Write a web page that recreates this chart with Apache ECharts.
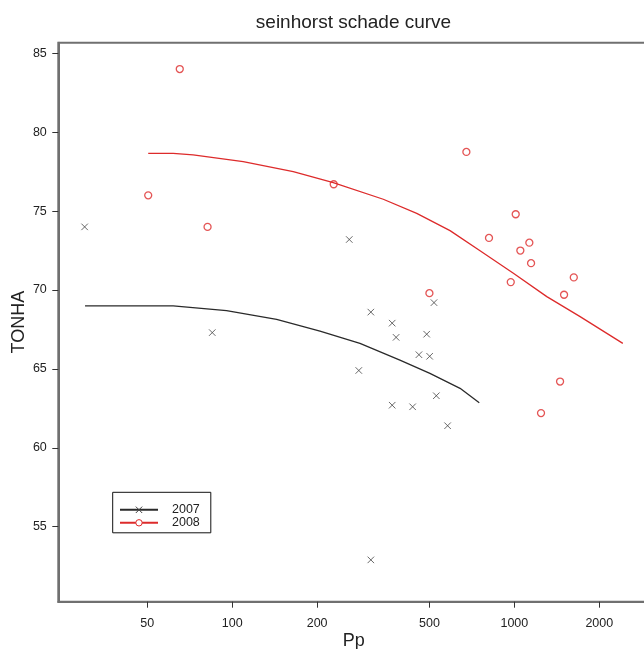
<!DOCTYPE html>
<html>
<head>
<meta charset="utf-8">
<title>seinhorst schade curve</title>
<script src="https://cdn.jsdelivr.net/npm/echarts@6/dist/echarts.min.js"></script>
<style>
  html, body { margin: 0; padding: 0; background: #fff; }
  #chart { width: 644px; height: 649px; }
</style>
</head>
<body>
<div id="chart"></div>
<script>
// observed points
const pp2007 = [30, 85, 260, 310, 369, 519, 381, 489, 459, 501, 281, 529, 369, 436, 580, 310]
const tonha2007 = [74.0, 67.3, 73.2, 68.6, 67.9, 69.2, 67.0, 67.2, 65.9, 65.8, 64.9, 63.3, 62.7, 62.6, 61.4, 52.9]

const pp2008 = [65.2, 50.4, 81.8, 229, 676, 1011, 813, 1130, 1050, 1146, 971, 1624, 1500, 500, 1452, 1243]
const tonha2008 = [84.0, 76.0, 74.0, 76.7, 78.75, 74.8, 73.3, 73.0, 72.5, 71.7, 70.5, 70.8, 69.7, 69.8, 64.2, 62.2]

// fitted curves
const curvePp2007 = [30.1, 61.8, 95.5, 143.7, 204.7, 283.7, 393, 502, 642, 751]
const curveY2007 = [69.0, 69.0, 68.69, 68.14, 67.4, 66.62, 65.56, 64.72, 63.77, 62.86]

const curvePp2008 = [50.4, 61.8, 72.7, 109.4, 164.6, 228.1, 343.1, 450.8, 591.6, 755.7, 992, 1303, 1710, 2423]
const curveY2008 = [78.66, 78.66, 78.56, 78.13, 77.5, 76.8, 75.75, 74.86, 73.76, 72.49, 71.06, 69.58, 68.31, 66.62]

const xTicks = [50, 100, 200, 500, 1000, 2000]
const yTicks = [55, 60, 65, 70, 75, 80, 85]

const colors = {
  black: '#2a2a2a',
  red: '#dd2b2b',
  frame: '#707070',
  text: '#222'
}

const crossSymbol = 'path://M0,0L10,10M10,0L0,10'
const font = '"Liberation Sans", Arial, sans-serif'

const pairs = (xs, ys) => xs.map((x, i) => [x, ys[i]])

const chart = echarts.init(document.getElementById('chart'))

chart.setOption({
  animation: false,
  backgroundColor: '#fff',
  textStyle: { fontFamily: font },
  title: {
    text: 'seinhorst schade curve',
    left: 353.5,
    textAlign: 'center',
    top: 13,
    padding: 0,
    textStyle: { fontSize: 19, fontWeight: 'normal', color: colors.text, fontFamily: font }
  },
  grid: {
    left: 58.3,
    top: 42.7,
    right: -5,
    bottom: 47.3,
    outerBoundsMode: 'none',
    containLabel: false,
    show: true,
    borderColor: colors.frame,
    borderWidth: 2
  },
  legend: {
    orient: 'vertical',
    left: 112.7,
    top: 492.3,
    padding: [11, 11, 3.5, 6.3],
    itemGap: 0,
    itemWidth: 38,
    itemHeight: 8,
    align: 'left',
    borderColor: '#111',
    borderWidth: 1,
    data: ['2007', '2008'],
    itemStyle: { borderWidth: 1 },
    textStyle: {
      fontSize: 12.5,
      color: colors.text,
      fontFamily: font,
      padding: [0, 0, 0, 9]
    }
  },
  xAxis: {
    type: 'log',
    logBase: 10,
    min: 24.2,
    max: 3000,
    name: 'Pp',
    nameLocation: 'middle',
    nameGap: 30,
    nameMoveOverlap: false,
    nameTextStyle: { fontSize: 18, color: colors.text, fontFamily: font },
    axisLine: { show: true, lineStyle: { color: colors.frame, width: 2 } },
    axisTick: { show: true, length: 6, customValues: xTicks, lineStyle: { color: '#333', width: 1 } },
    axisLabel: {
      customValues: xTicks,
      margin: 15,
      fontSize: 12.5,
      color: colors.text,
      fontFamily: font,
      formatter: v => String(v)
    },
    splitLine: { show: false },
    minorTick: { show: false }
  },
  yAxis: {
    type: 'value',
    min: 50.25,
    max: 85.67,
    name: 'TONHA',
    nameLocation: 'middle',
    nameGap: 30,
    nameMoveOverlap: false,
    nameTextStyle: { fontSize: 18, color: colors.text, fontFamily: font },
    axisLine: { show: true, lineStyle: { color: colors.frame, width: 2 } },
    axisTick: { show: true, length: 6, customValues: yTicks, lineStyle: { color: '#333', width: 1 } },
    axisLabel: { customValues: yTicks, margin: 11.5, fontSize: 12.5, color: colors.text, fontFamily: font },
    splitLine: { show: false }
  },
  series: [
    {
      name: '2007',
      type: 'line',
      data: pairs(curvePp2007, curveY2007),
      symbol: crossSymbol,
      showSymbol: false,
      lineStyle: { color: colors.black, width: 1.3 },
      itemStyle: { color: '#444', borderColor: '#444', borderWidth: 1 },
      z: 3
    },
    {
      name: '2008',
      type: 'line',
      data: pairs(curvePp2008, curveY2008),
      symbol: 'circle',
      showSymbol: false,
      lineStyle: { color: colors.red, width: 1.3 },
      itemStyle: { color: '#fff', borderColor: colors.red, borderWidth: 1 },
      z: 3
    },
    {
      name: '2007',
      type: 'scatter',
      data: pairs(pp2007, tonha2007),
      symbol: crossSymbol,
      symbolSize: 6.5,
      itemStyle: { color: 'transparent', borderColor: '#444', borderWidth: 1 },
      z: 4
    },
    {
      name: '2008',
      type: 'scatter',
      data: pairs(pp2008, tonha2008),
      symbol: 'circle',
      symbolSize: 7,
      itemStyle: { color: 'transparent', borderColor: colors.red, borderWidth: 1.3 },
      z: 4
    }
  ]
})
</script>
</body>
</html>
